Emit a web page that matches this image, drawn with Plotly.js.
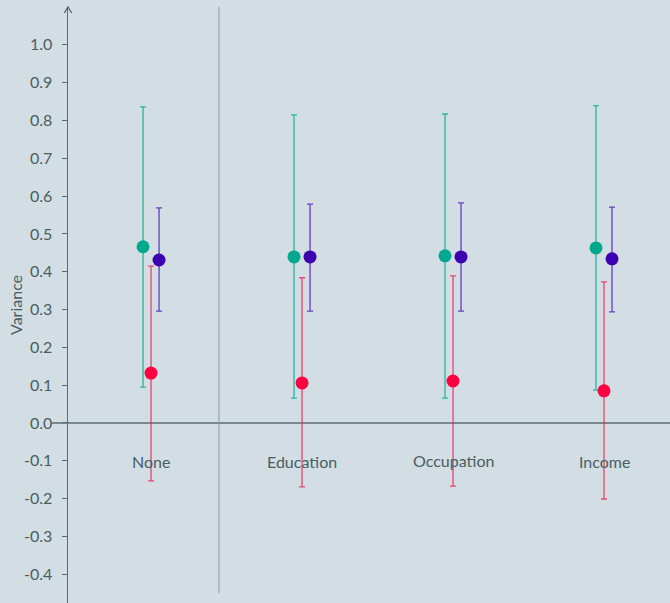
<!DOCTYPE html>
<html><head><meta charset="utf-8">
<script src="https://cdn.plot.ly/plotly-3.0.1.min.js"></script>
<style>html,body{margin:0;padding:0;background:#d2dee3;}</style>
</head><body><div id="chart" style="width:670px;height:603px;"></div>
<script>
const categories = ["None", "Education", "Occupation", "Income"];
const labelY = [-0.103, -0.103, -0.098, -0.103];

const tealVal = [0.466, 0.439, 0.442, 0.463];
const tealHi  = [0.836, 0.815, 0.817, 0.839];
const tealLo  = [0.095, 0.066, 0.066, 0.087];

const redVal = [0.132, 0.106, 0.111, 0.085];
const redHi  = [0.415, 0.384, 0.389, 0.373];
const redLo  = [-0.153, -0.169, -0.167, -0.201];

const purpVal = [0.431, 0.439, 0.439, 0.434];
const purpHi  = [0.569, 0.579, 0.582, 0.571];
const purpLo  = [0.296, 0.296, 0.296, 0.294];

const pos = categories.map((c, i) => i + 1);
const off = 0.053;

function series(vals, hi, lo, dx, mcol, ecol) {
  return {
    type: 'scatter', mode: 'markers',
    x: pos.map(p => p + dx), y: vals,
    marker: {color: mcol, size: 13},
    error_y: {type: 'data', symmetric: false,
      array: vals.map((v, i) => hi[i] - v),
      arrayminus: vals.map((v, i) => v - lo[i]),
      color: ecol, thickness: 1.3, width: 3},
    showlegend: false, hoverinfo: 'skip'
  };
}

const data = [
  series(tealVal, tealHi, tealLo, -off, '#00a88e', 'rgba(0,168,142,0.8)'),
  series(redVal, redHi, redLo, 0, '#ff0040', 'rgba(240,30,85,0.8)'),
  series(purpVal, purpHi, purpLo, off, '#3d00b0', 'rgba(75,20,185,0.8)')
];

const FONT = 'Lato, sans-serif';
const TXT = '#4a5d61';

const annotations = categories.map((c, i) => ({
  x: pos[i], y: labelY[i], xref: 'x', yref: 'y', text: c, showarrow: false,
  font: {family: FONT, size: 16, color: TXT}
}));
annotations.push({
  x: -0.088, y: 0.5, xref: 'paper', yref: 'paper', text: 'Variance', showarrow: false,
  textangle: -90, xanchor: 'center', yanchor: 'middle',
  font: {family: FONT, size: 16, color: TXT}
});

const layout = {
  width: 670, height: 603,
  margin: {l: 68, r: 0, t: 7, b: 0},
  paper_bgcolor: '#d2dee3', plot_bgcolor: '#d2dee3',
  xaxis: {range: [0.45, 4.437], showgrid: false, zeroline: false, showticklabels: false, ticks: '', showline: false},
  yaxis: {range: [-0.476, 1.1], showgrid: false, zeroline: false,
    tickvals: [-0.4,-0.3,-0.2,-0.1,0,0.1,0.2,0.3,0.4,0.5,0.6,0.7,0.8,0.9,1.0],
    ticktext: ['-0.4','-0.3','-0.2','-0.1','0.0','0.1','0.2','0.3','0.4','0.5','0.6','0.7','0.8','0.9','1.0'],
    ticks: 'outside', ticklen: 5, tickcolor: '#5a6d70', tickwidth: 1,
    ticklabelstandoff: 6,
    showline: true, linecolor: '#5a6d70', linewidth: 1.5,
    tickfont: {family: FONT, size: 16, color: TXT}
  },
  shapes: [
    {type: 'line', xref: 'paper', yref: 'y', x0: -0.027, x1: 1, y0: 0, y1: 0, line: {color: '#5a6d70', width: 1.3}, layer: 'below'},
    {type: 'line', xref: 'x', yref: 'y', x0: 1.45, x1: 1.45, y0: -0.45, y1: 1.1, line: {color: '#8a9a9d', width: 1}, layer: 'below'},
    {type: 'path', xref: 'paper', yref: 'paper', path: 'M -0.006 0.99 L 0 1 L 0.006 0.99', line: {color: '#4a5d61', width: 1.2}}
  ],
  annotations: annotations,
  showlegend: false
};

Plotly.newPlot('chart', data, layout, {displayModeBar: false, staticPlot: true});
</script></body></html>
